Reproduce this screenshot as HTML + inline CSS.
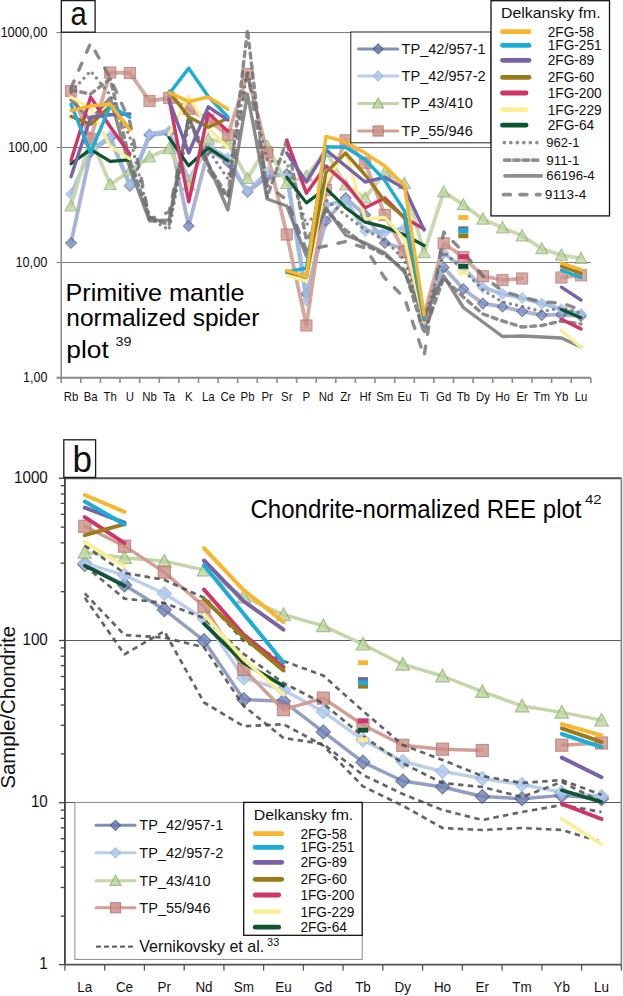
<!DOCTYPE html><html><head><meta charset="utf-8"><style>html,body{margin:0;padding:0;background:#fff;}svg{display:block;}text{font-family:"Liberation Sans", sans-serif;}</style></head><body>
<svg width="623" height="996" viewBox="0 0 623 996">
<rect width="623" height="996" fill="#fff"/>
<line x1="56.5" y1="32.5" x2="590.8" y2="32.5" stroke="#7C7C7C" stroke-width="1"/>
<line x1="56.5" y1="147.5" x2="590.8" y2="147.5" stroke="#7C7C7C" stroke-width="1"/>
<line x1="56.5" y1="262.5" x2="590.8" y2="262.5" stroke="#7C7C7C" stroke-width="1"/>
<line x1="61.2" y1="32.5" x2="61.2" y2="377.7" stroke="#8C8C8C" stroke-width="1.5"/>
<line x1="56.5" y1="377.7" x2="590.8" y2="377.7" stroke="#888" stroke-width="2"/>
<line x1="61.2" y1="377.7" x2="61.2" y2="383.0" stroke="#8C8C8C" stroke-width="1.6"/>
<line x1="80.8" y1="377.7" x2="80.8" y2="383.0" stroke="#8C8C8C" stroke-width="1.6"/>
<line x1="100.4" y1="377.7" x2="100.4" y2="383.0" stroke="#8C8C8C" stroke-width="1.6"/>
<line x1="120.0" y1="377.7" x2="120.0" y2="383.0" stroke="#8C8C8C" stroke-width="1.6"/>
<line x1="139.7" y1="377.7" x2="139.7" y2="383.0" stroke="#8C8C8C" stroke-width="1.6"/>
<line x1="159.3" y1="377.7" x2="159.3" y2="383.0" stroke="#8C8C8C" stroke-width="1.6"/>
<line x1="178.9" y1="377.7" x2="178.9" y2="383.0" stroke="#8C8C8C" stroke-width="1.6"/>
<line x1="198.5" y1="377.7" x2="198.5" y2="383.0" stroke="#8C8C8C" stroke-width="1.6"/>
<line x1="218.1" y1="377.7" x2="218.1" y2="383.0" stroke="#8C8C8C" stroke-width="1.6"/>
<line x1="237.7" y1="377.7" x2="237.7" y2="383.0" stroke="#8C8C8C" stroke-width="1.6"/>
<line x1="257.3" y1="377.7" x2="257.3" y2="383.0" stroke="#8C8C8C" stroke-width="1.6"/>
<line x1="277.0" y1="377.7" x2="277.0" y2="383.0" stroke="#8C8C8C" stroke-width="1.6"/>
<line x1="296.6" y1="377.7" x2="296.6" y2="383.0" stroke="#8C8C8C" stroke-width="1.6"/>
<line x1="316.2" y1="377.7" x2="316.2" y2="383.0" stroke="#8C8C8C" stroke-width="1.6"/>
<line x1="335.8" y1="377.7" x2="335.8" y2="383.0" stroke="#8C8C8C" stroke-width="1.6"/>
<line x1="355.4" y1="377.7" x2="355.4" y2="383.0" stroke="#8C8C8C" stroke-width="1.6"/>
<line x1="375.0" y1="377.7" x2="375.0" y2="383.0" stroke="#8C8C8C" stroke-width="1.6"/>
<line x1="394.7" y1="377.7" x2="394.7" y2="383.0" stroke="#8C8C8C" stroke-width="1.6"/>
<line x1="414.3" y1="377.7" x2="414.3" y2="383.0" stroke="#8C8C8C" stroke-width="1.6"/>
<line x1="433.9" y1="377.7" x2="433.9" y2="383.0" stroke="#8C8C8C" stroke-width="1.6"/>
<line x1="453.5" y1="377.7" x2="453.5" y2="383.0" stroke="#8C8C8C" stroke-width="1.6"/>
<line x1="473.1" y1="377.7" x2="473.1" y2="383.0" stroke="#8C8C8C" stroke-width="1.6"/>
<line x1="492.7" y1="377.7" x2="492.7" y2="383.0" stroke="#8C8C8C" stroke-width="1.6"/>
<line x1="512.3" y1="377.7" x2="512.3" y2="383.0" stroke="#8C8C8C" stroke-width="1.6"/>
<line x1="532.0" y1="377.7" x2="532.0" y2="383.0" stroke="#8C8C8C" stroke-width="1.6"/>
<line x1="551.6" y1="377.7" x2="551.6" y2="383.0" stroke="#8C8C8C" stroke-width="1.6"/>
<line x1="571.2" y1="377.7" x2="571.2" y2="383.0" stroke="#8C8C8C" stroke-width="1.6"/>
<line x1="590.8" y1="377.7" x2="590.8" y2="383.0" stroke="#8C8C8C" stroke-width="1.6"/>
<text x="47.4" y="36.9" font-size="14.2" text-anchor="end" fill="#111" textLength="47" lengthAdjust="spacingAndGlyphs" >1000,00</text>
<text x="47.4" y="151.9" font-size="14.2" text-anchor="end" fill="#111" textLength="39.5" lengthAdjust="spacingAndGlyphs" >100,00</text>
<text x="47.4" y="266.9" font-size="14.2" text-anchor="end" fill="#111" textLength="32" lengthAdjust="spacingAndGlyphs" >10,00</text>
<text x="47.4" y="382.1" font-size="14.2" text-anchor="end" fill="#111" textLength="24.5" lengthAdjust="spacingAndGlyphs" >1,00</text>
<text x="71.0" y="400.8" font-size="13.3" text-anchor="middle" fill="#111" textLength="14.56" lengthAdjust="spacingAndGlyphs" >Rb</text>
<text x="90.6" y="400.8" font-size="13.3" text-anchor="middle" fill="#111" textLength="13.93" lengthAdjust="spacingAndGlyphs" >Ba</text>
<text x="110.2" y="400.8" font-size="13.3" text-anchor="middle" fill="#111" textLength="13.3" lengthAdjust="spacingAndGlyphs" >Th</text>
<text x="129.9" y="400.8" font-size="13.3" text-anchor="middle" fill="#111" textLength="8.23" lengthAdjust="spacingAndGlyphs" >U</text>
<text x="149.5" y="400.8" font-size="13.3" text-anchor="middle" fill="#111" textLength="14.56" lengthAdjust="spacingAndGlyphs" >Nb</text>
<text x="169.1" y="400.8" font-size="13.3" text-anchor="middle" fill="#111" textLength="12.03" lengthAdjust="spacingAndGlyphs" >Ta</text>
<text x="188.7" y="400.8" font-size="13.3" text-anchor="middle" fill="#111" textLength="7.6" lengthAdjust="spacingAndGlyphs" >K</text>
<text x="208.3" y="400.8" font-size="13.3" text-anchor="middle" fill="#111" textLength="12.66" lengthAdjust="spacingAndGlyphs" >La</text>
<text x="227.9" y="400.8" font-size="13.3" text-anchor="middle" fill="#111" textLength="14.56" lengthAdjust="spacingAndGlyphs" >Ce</text>
<text x="247.5" y="400.8" font-size="13.3" text-anchor="middle" fill="#111" textLength="13.93" lengthAdjust="spacingAndGlyphs" >Pb</text>
<text x="267.2" y="400.8" font-size="13.3" text-anchor="middle" fill="#111" textLength="11.39" lengthAdjust="spacingAndGlyphs" >Pr</text>
<text x="286.8" y="400.8" font-size="13.3" text-anchor="middle" fill="#111" textLength="11.39" lengthAdjust="spacingAndGlyphs" >Sr</text>
<text x="306.4" y="400.8" font-size="13.3" text-anchor="middle" fill="#111" textLength="7.6" lengthAdjust="spacingAndGlyphs" >P</text>
<text x="326.0" y="400.8" font-size="13.3" text-anchor="middle" fill="#111" textLength="14.56" lengthAdjust="spacingAndGlyphs" >Nd</text>
<text x="345.6" y="400.8" font-size="13.3" text-anchor="middle" fill="#111" textLength="10.75" lengthAdjust="spacingAndGlyphs" >Zr</text>
<text x="365.2" y="400.8" font-size="13.3" text-anchor="middle" fill="#111" textLength="11.4" lengthAdjust="spacingAndGlyphs" >Hf</text>
<text x="384.8" y="400.8" font-size="13.3" text-anchor="middle" fill="#111" textLength="17.08" lengthAdjust="spacingAndGlyphs" >Sm</text>
<text x="404.5" y="400.8" font-size="13.3" text-anchor="middle" fill="#111" textLength="13.93" lengthAdjust="spacingAndGlyphs" >Eu</text>
<text x="424.1" y="400.8" font-size="13.3" text-anchor="middle" fill="#111" textLength="9.06" lengthAdjust="spacingAndGlyphs" >Ti</text>
<text x="443.7" y="400.8" font-size="13.3" text-anchor="middle" fill="#111" textLength="15.2" lengthAdjust="spacingAndGlyphs" >Gd</text>
<text x="463.3" y="400.8" font-size="13.3" text-anchor="middle" fill="#111" textLength="13.3" lengthAdjust="spacingAndGlyphs" >Tb</text>
<text x="482.9" y="400.8" font-size="13.3" text-anchor="middle" fill="#111" textLength="13.92" lengthAdjust="spacingAndGlyphs" >Dy</text>
<text x="502.5" y="400.8" font-size="13.3" text-anchor="middle" fill="#111" textLength="14.56" lengthAdjust="spacingAndGlyphs" >Ho</text>
<text x="522.1" y="400.8" font-size="13.3" text-anchor="middle" fill="#111" textLength="11.39" lengthAdjust="spacingAndGlyphs" >Er</text>
<text x="541.8" y="400.8" font-size="13.3" text-anchor="middle" fill="#111" textLength="16.45" lengthAdjust="spacingAndGlyphs" >Tm</text>
<text x="561.4" y="400.8" font-size="13.3" text-anchor="middle" fill="#111" textLength="13.93" lengthAdjust="spacingAndGlyphs" >Yb</text>
<text x="581.0" y="400.8" font-size="13.3" text-anchor="middle" fill="#111" textLength="12.66" lengthAdjust="spacingAndGlyphs" >Lu</text>
<polyline points="71.0,243.0 90.6,152.0 110.2,138.0 129.9,186.0 149.5,135.0 169.1,133.0 188.7,226.0 208.3,150.0 227.9,162.0 247.5,192.0 267.2,177.0 286.8,174.0 306.4,294.0 326.0,221.0 345.6,198.0 365.2,215.0 384.8,243.0 404.5,249.0 424.1,322.0 443.7,267.4 463.3,289.0 482.9,303.5 502.5,306.7 522.1,311.3 541.8,315.1 561.4,314.5 581.0,316.1" fill="none" stroke="#A2ABCF" stroke-width="3.8" stroke-linejoin="round" stroke-linecap="round" opacity="0.9"/>
<polygon points="71.0,237.8 76.3,243.0 71.0,248.2 65.8,243.0" fill="#7D8FC2" stroke="#4F5F90" stroke-width="1.2" opacity="0.75"/>
<polygon points="90.6,146.8 95.9,152.0 90.6,157.2 85.4,152.0" fill="#7D8FC2" stroke="#4F5F90" stroke-width="1.2" opacity="0.75"/>
<polygon points="110.2,132.8 115.5,138.0 110.2,143.2 105.0,138.0" fill="#7D8FC2" stroke="#4F5F90" stroke-width="1.2" opacity="0.75"/>
<polygon points="129.9,180.8 135.1,186.0 129.9,191.2 124.6,186.0" fill="#7D8FC2" stroke="#4F5F90" stroke-width="1.2" opacity="0.75"/>
<polygon points="149.5,129.8 154.7,135.0 149.5,140.2 144.2,135.0" fill="#7D8FC2" stroke="#4F5F90" stroke-width="1.2" opacity="0.75"/>
<polygon points="169.1,127.8 174.3,133.0 169.1,138.2 163.8,133.0" fill="#7D8FC2" stroke="#4F5F90" stroke-width="1.2" opacity="0.75"/>
<polygon points="188.7,220.8 193.9,226.0 188.7,231.2 183.4,226.0" fill="#7D8FC2" stroke="#4F5F90" stroke-width="1.2" opacity="0.75"/>
<polygon points="208.3,144.8 213.6,150.0 208.3,155.2 203.1,150.0" fill="#7D8FC2" stroke="#4F5F90" stroke-width="1.2" opacity="0.75"/>
<polygon points="227.9,156.8 233.2,162.0 227.9,167.2 222.7,162.0" fill="#7D8FC2" stroke="#4F5F90" stroke-width="1.2" opacity="0.75"/>
<polygon points="247.5,186.8 252.8,192.0 247.5,197.2 242.3,192.0" fill="#7D8FC2" stroke="#4F5F90" stroke-width="1.2" opacity="0.75"/>
<polygon points="267.2,171.8 272.4,177.0 267.2,182.2 261.9,177.0" fill="#7D8FC2" stroke="#4F5F90" stroke-width="1.2" opacity="0.75"/>
<polygon points="286.8,168.8 292.0,174.0 286.8,179.2 281.5,174.0" fill="#7D8FC2" stroke="#4F5F90" stroke-width="1.2" opacity="0.75"/>
<polygon points="306.4,288.8 311.6,294.0 306.4,299.2 301.1,294.0" fill="#7D8FC2" stroke="#4F5F90" stroke-width="1.2" opacity="0.75"/>
<polygon points="326.0,215.8 331.2,221.0 326.0,226.2 320.7,221.0" fill="#7D8FC2" stroke="#4F5F90" stroke-width="1.2" opacity="0.75"/>
<polygon points="345.6,192.8 350.9,198.0 345.6,203.2 340.4,198.0" fill="#7D8FC2" stroke="#4F5F90" stroke-width="1.2" opacity="0.75"/>
<polygon points="365.2,209.8 370.5,215.0 365.2,220.2 360.0,215.0" fill="#7D8FC2" stroke="#4F5F90" stroke-width="1.2" opacity="0.75"/>
<polygon points="384.8,237.8 390.1,243.0 384.8,248.2 379.6,243.0" fill="#7D8FC2" stroke="#4F5F90" stroke-width="1.2" opacity="0.75"/>
<polygon points="404.5,243.8 409.7,249.0 404.5,254.2 399.2,249.0" fill="#7D8FC2" stroke="#4F5F90" stroke-width="1.2" opacity="0.75"/>
<polygon points="424.1,316.8 429.3,322.0 424.1,327.2 418.8,322.0" fill="#7D8FC2" stroke="#4F5F90" stroke-width="1.2" opacity="0.75"/>
<polygon points="443.7,262.1 448.9,267.4 443.7,272.6 438.4,267.4" fill="#7D8FC2" stroke="#4F5F90" stroke-width="1.2" opacity="0.75"/>
<polygon points="463.3,283.8 468.6,289.0 463.3,294.2 458.1,289.0" fill="#7D8FC2" stroke="#4F5F90" stroke-width="1.2" opacity="0.75"/>
<polygon points="482.9,298.2 488.2,303.5 482.9,308.8 477.7,303.5" fill="#7D8FC2" stroke="#4F5F90" stroke-width="1.2" opacity="0.75"/>
<polygon points="502.5,301.4 507.8,306.7 502.5,311.9 497.3,306.7" fill="#7D8FC2" stroke="#4F5F90" stroke-width="1.2" opacity="0.75"/>
<polygon points="522.1,306.1 527.4,311.3 522.1,316.6 516.9,311.3" fill="#7D8FC2" stroke="#4F5F90" stroke-width="1.2" opacity="0.75"/>
<polygon points="541.8,309.9 547.0,315.1 541.8,320.4 536.5,315.1" fill="#7D8FC2" stroke="#4F5F90" stroke-width="1.2" opacity="0.75"/>
<polygon points="561.4,309.2 566.6,314.5 561.4,319.8 556.1,314.5" fill="#7D8FC2" stroke="#4F5F90" stroke-width="1.2" opacity="0.75"/>
<polygon points="581.0,310.9 586.2,316.1 581.0,321.4 575.7,316.1" fill="#7D8FC2" stroke="#4F5F90" stroke-width="1.2" opacity="0.75"/>
<polyline points="71.0,194.0 90.6,150.0 110.2,136.5 129.9,185.0 149.5,134.0 169.1,131.0 188.7,180.0 208.3,146.0 227.9,158.0 247.5,191.5 267.2,172.0 286.8,176.0 306.4,301.0 326.0,205.0 345.6,200.0 365.2,231.0 384.8,232.0 404.5,228.0 424.1,318.0 443.7,253.0 463.3,268.2 482.9,287.4 502.5,294.0 522.1,298.0 541.8,303.6 561.4,309.0 581.0,314.0" fill="none" stroke="#9DBAE2" stroke-width="3.8" stroke-linejoin="round" stroke-linecap="round" opacity="0.9"/>
<polygon points="71.0,188.8 76.3,194.0 71.0,199.2 65.8,194.0" fill="#A8C4EA" stroke="#9DB7DE" stroke-width="1.2" opacity="0.75"/>
<polygon points="90.6,144.8 95.9,150.0 90.6,155.2 85.4,150.0" fill="#A8C4EA" stroke="#9DB7DE" stroke-width="1.2" opacity="0.75"/>
<polygon points="110.2,131.2 115.5,136.5 110.2,141.8 105.0,136.5" fill="#A8C4EA" stroke="#9DB7DE" stroke-width="1.2" opacity="0.75"/>
<polygon points="129.9,179.8 135.1,185.0 129.9,190.2 124.6,185.0" fill="#A8C4EA" stroke="#9DB7DE" stroke-width="1.2" opacity="0.75"/>
<polygon points="149.5,128.8 154.7,134.0 149.5,139.2 144.2,134.0" fill="#A8C4EA" stroke="#9DB7DE" stroke-width="1.2" opacity="0.75"/>
<polygon points="169.1,125.8 174.3,131.0 169.1,136.2 163.8,131.0" fill="#A8C4EA" stroke="#9DB7DE" stroke-width="1.2" opacity="0.75"/>
<polygon points="188.7,174.8 193.9,180.0 188.7,185.2 183.4,180.0" fill="#A8C4EA" stroke="#9DB7DE" stroke-width="1.2" opacity="0.75"/>
<polygon points="208.3,140.8 213.6,146.0 208.3,151.2 203.1,146.0" fill="#A8C4EA" stroke="#9DB7DE" stroke-width="1.2" opacity="0.75"/>
<polygon points="227.9,152.8 233.2,158.0 227.9,163.2 222.7,158.0" fill="#A8C4EA" stroke="#9DB7DE" stroke-width="1.2" opacity="0.75"/>
<polygon points="247.5,186.2 252.8,191.5 247.5,196.8 242.3,191.5" fill="#A8C4EA" stroke="#9DB7DE" stroke-width="1.2" opacity="0.75"/>
<polygon points="267.2,166.8 272.4,172.0 267.2,177.2 261.9,172.0" fill="#A8C4EA" stroke="#9DB7DE" stroke-width="1.2" opacity="0.75"/>
<polygon points="286.8,170.8 292.0,176.0 286.8,181.2 281.5,176.0" fill="#A8C4EA" stroke="#9DB7DE" stroke-width="1.2" opacity="0.75"/>
<polygon points="306.4,295.8 311.6,301.0 306.4,306.2 301.1,301.0" fill="#A8C4EA" stroke="#9DB7DE" stroke-width="1.2" opacity="0.75"/>
<polygon points="326.0,199.8 331.2,205.0 326.0,210.2 320.7,205.0" fill="#A8C4EA" stroke="#9DB7DE" stroke-width="1.2" opacity="0.75"/>
<polygon points="345.6,194.8 350.9,200.0 345.6,205.2 340.4,200.0" fill="#A8C4EA" stroke="#9DB7DE" stroke-width="1.2" opacity="0.75"/>
<polygon points="365.2,225.8 370.5,231.0 365.2,236.2 360.0,231.0" fill="#A8C4EA" stroke="#9DB7DE" stroke-width="1.2" opacity="0.75"/>
<polygon points="384.8,226.8 390.1,232.0 384.8,237.2 379.6,232.0" fill="#A8C4EA" stroke="#9DB7DE" stroke-width="1.2" opacity="0.75"/>
<polygon points="404.5,222.8 409.7,228.0 404.5,233.2 399.2,228.0" fill="#A8C4EA" stroke="#9DB7DE" stroke-width="1.2" opacity="0.75"/>
<polygon points="424.1,312.8 429.3,318.0 424.1,323.2 418.8,318.0" fill="#A8C4EA" stroke="#9DB7DE" stroke-width="1.2" opacity="0.75"/>
<polygon points="443.7,247.8 448.9,253.0 443.7,258.2 438.4,253.0" fill="#A8C4EA" stroke="#9DB7DE" stroke-width="1.2" opacity="0.75"/>
<polygon points="463.3,262.9 468.6,268.2 463.3,273.4 458.1,268.2" fill="#A8C4EA" stroke="#9DB7DE" stroke-width="1.2" opacity="0.75"/>
<polygon points="482.9,282.1 488.2,287.4 482.9,292.6 477.7,287.4" fill="#A8C4EA" stroke="#9DB7DE" stroke-width="1.2" opacity="0.75"/>
<polygon points="502.5,288.8 507.8,294.0 502.5,299.2 497.3,294.0" fill="#A8C4EA" stroke="#9DB7DE" stroke-width="1.2" opacity="0.75"/>
<polygon points="522.1,292.8 527.4,298.0 522.1,303.2 516.9,298.0" fill="#A8C4EA" stroke="#9DB7DE" stroke-width="1.2" opacity="0.75"/>
<polygon points="541.8,298.4 547.0,303.6 541.8,308.9 536.5,303.6" fill="#A8C4EA" stroke="#9DB7DE" stroke-width="1.2" opacity="0.75"/>
<polygon points="561.4,303.8 566.6,309.0 561.4,314.2 556.1,309.0" fill="#A8C4EA" stroke="#9DB7DE" stroke-width="1.2" opacity="0.75"/>
<polygon points="581.0,308.8 586.2,314.0 581.0,319.2 575.7,314.0" fill="#A8C4EA" stroke="#9DB7DE" stroke-width="1.2" opacity="0.75"/>
<polyline points="71.0,206.0 90.6,138.0 110.2,184.5 129.9,171.0 149.5,157.0 169.1,148.5 188.7,185.0 208.3,139.0 227.9,143.0 247.5,178.5 267.2,146.0 286.8,183.5 306.4,176.0 326.0,151.5 345.6,185.0 365.2,198.0 384.8,172.5 404.5,183.5 424.1,252.7 443.7,191.8 463.3,204.7 482.9,219.1 502.5,227.8 522.1,235.8 541.8,248.7 561.4,255.1 581.0,258.3" fill="none" stroke="#C4D5A8" stroke-width="3.8" stroke-linejoin="round" stroke-linecap="round" opacity="0.9"/>
<polygon points="71.0,200.0 77.0,211.0 65.0,211.0" fill="#BCD69E" stroke="#93AF72" stroke-width="1.2" opacity="0.75"/>
<polygon points="90.6,132.0 96.6,143.0 84.6,143.0" fill="#BCD69E" stroke="#93AF72" stroke-width="1.2" opacity="0.75"/>
<polygon points="110.2,178.5 116.2,189.5 104.2,189.5" fill="#BCD69E" stroke="#93AF72" stroke-width="1.2" opacity="0.75"/>
<polygon points="129.9,165.0 135.9,176.0 123.9,176.0" fill="#BCD69E" stroke="#93AF72" stroke-width="1.2" opacity="0.75"/>
<polygon points="149.5,151.0 155.5,162.0 143.5,162.0" fill="#BCD69E" stroke="#93AF72" stroke-width="1.2" opacity="0.75"/>
<polygon points="169.1,142.5 175.1,153.5 163.1,153.5" fill="#BCD69E" stroke="#93AF72" stroke-width="1.2" opacity="0.75"/>
<polygon points="188.7,179.0 194.7,190.0 182.7,190.0" fill="#BCD69E" stroke="#93AF72" stroke-width="1.2" opacity="0.75"/>
<polygon points="208.3,133.0 214.3,144.0 202.3,144.0" fill="#BCD69E" stroke="#93AF72" stroke-width="1.2" opacity="0.75"/>
<polygon points="227.9,137.0 233.9,148.0 221.9,148.0" fill="#BCD69E" stroke="#93AF72" stroke-width="1.2" opacity="0.75"/>
<polygon points="247.5,172.5 253.5,183.5 241.5,183.5" fill="#BCD69E" stroke="#93AF72" stroke-width="1.2" opacity="0.75"/>
<polygon points="267.2,140.0 273.2,151.0 261.2,151.0" fill="#BCD69E" stroke="#93AF72" stroke-width="1.2" opacity="0.75"/>
<polygon points="286.8,177.5 292.8,188.5 280.8,188.5" fill="#BCD69E" stroke="#93AF72" stroke-width="1.2" opacity="0.75"/>
<polygon points="306.4,170.0 312.4,181.0 300.4,181.0" fill="#BCD69E" stroke="#93AF72" stroke-width="1.2" opacity="0.75"/>
<polygon points="326.0,145.5 332.0,156.5 320.0,156.5" fill="#BCD69E" stroke="#93AF72" stroke-width="1.2" opacity="0.75"/>
<polygon points="345.6,179.0 351.6,190.0 339.6,190.0" fill="#BCD69E" stroke="#93AF72" stroke-width="1.2" opacity="0.75"/>
<polygon points="365.2,192.0 371.2,203.0 359.2,203.0" fill="#BCD69E" stroke="#93AF72" stroke-width="1.2" opacity="0.75"/>
<polygon points="384.8,166.5 390.8,177.5 378.8,177.5" fill="#BCD69E" stroke="#93AF72" stroke-width="1.2" opacity="0.75"/>
<polygon points="404.5,177.5 410.5,188.5 398.5,188.5" fill="#BCD69E" stroke="#93AF72" stroke-width="1.2" opacity="0.75"/>
<polygon points="424.1,246.7 430.1,257.7 418.1,257.7" fill="#BCD69E" stroke="#93AF72" stroke-width="1.2" opacity="0.75"/>
<polygon points="443.7,185.8 449.7,196.8 437.7,196.8" fill="#BCD69E" stroke="#93AF72" stroke-width="1.2" opacity="0.75"/>
<polygon points="463.3,198.7 469.3,209.7 457.3,209.7" fill="#BCD69E" stroke="#93AF72" stroke-width="1.2" opacity="0.75"/>
<polygon points="482.9,213.1 488.9,224.1 476.9,224.1" fill="#BCD69E" stroke="#93AF72" stroke-width="1.2" opacity="0.75"/>
<polygon points="502.5,221.8 508.5,232.8 496.5,232.8" fill="#BCD69E" stroke="#93AF72" stroke-width="1.2" opacity="0.75"/>
<polygon points="522.1,229.8 528.1,240.8 516.1,240.8" fill="#BCD69E" stroke="#93AF72" stroke-width="1.2" opacity="0.75"/>
<polygon points="541.8,242.7 547.8,253.7 535.8,253.7" fill="#BCD69E" stroke="#93AF72" stroke-width="1.2" opacity="0.75"/>
<polygon points="561.4,249.1 567.4,260.1 555.4,260.1" fill="#BCD69E" stroke="#93AF72" stroke-width="1.2" opacity="0.75"/>
<polygon points="581.0,252.3 587.0,263.3 575.0,263.3" fill="#BCD69E" stroke="#93AF72" stroke-width="1.2" opacity="0.75"/>
<polyline points="71.0,91.0 90.6,139.0 110.2,72.5 129.9,73.0 149.5,101.0 169.1,98.0 188.7,109.0 208.3,120.0 227.9,135.0 247.5,74.0 267.2,152.6 286.8,234.5 306.4,325.5 326.0,190.0 345.6,140.3 365.2,162.7 384.8,215.0 404.5,252.0 424.1,315.0 443.7,243.3 463.3,257.0 482.9,276.2 502.5,280.0 522.1,278.5" fill="none" stroke="#D29E96" stroke-width="3.8" stroke-linejoin="round" stroke-linecap="round" opacity="0.9"/>
<polyline points="561.4,277.5 581.0,275.3" fill="none" stroke="#D29E96" stroke-width="3.8" stroke-linejoin="round" stroke-linecap="round" opacity="0.9"/>
<rect x="65.5" y="85.5" width="11" height="11" fill="#CB9189" stroke="#B47268" stroke-width="1.2" opacity="0.75"/>
<rect x="85.1" y="133.5" width="11" height="11" fill="#CB9189" stroke="#B47268" stroke-width="1.2" opacity="0.75"/>
<rect x="104.7" y="67.0" width="11" height="11" fill="#CB9189" stroke="#B47268" stroke-width="1.2" opacity="0.75"/>
<rect x="124.4" y="67.5" width="11" height="11" fill="#CB9189" stroke="#B47268" stroke-width="1.2" opacity="0.75"/>
<rect x="144.0" y="95.5" width="11" height="11" fill="#CB9189" stroke="#B47268" stroke-width="1.2" opacity="0.75"/>
<rect x="163.6" y="92.5" width="11" height="11" fill="#CB9189" stroke="#B47268" stroke-width="1.2" opacity="0.75"/>
<rect x="183.2" y="103.5" width="11" height="11" fill="#CB9189" stroke="#B47268" stroke-width="1.2" opacity="0.75"/>
<rect x="202.8" y="114.5" width="11" height="11" fill="#CB9189" stroke="#B47268" stroke-width="1.2" opacity="0.75"/>
<rect x="222.4" y="129.5" width="11" height="11" fill="#CB9189" stroke="#B47268" stroke-width="1.2" opacity="0.75"/>
<rect x="242.0" y="68.5" width="11" height="11" fill="#CB9189" stroke="#B47268" stroke-width="1.2" opacity="0.75"/>
<rect x="261.7" y="147.1" width="11" height="11" fill="#CB9189" stroke="#B47268" stroke-width="1.2" opacity="0.75"/>
<rect x="281.3" y="229.0" width="11" height="11" fill="#CB9189" stroke="#B47268" stroke-width="1.2" opacity="0.75"/>
<rect x="300.9" y="320.0" width="11" height="11" fill="#CB9189" stroke="#B47268" stroke-width="1.2" opacity="0.75"/>
<rect x="320.5" y="184.5" width="11" height="11" fill="#CB9189" stroke="#B47268" stroke-width="1.2" opacity="0.75"/>
<rect x="340.1" y="134.8" width="11" height="11" fill="#CB9189" stroke="#B47268" stroke-width="1.2" opacity="0.75"/>
<rect x="359.7" y="157.2" width="11" height="11" fill="#CB9189" stroke="#B47268" stroke-width="1.2" opacity="0.75"/>
<rect x="379.3" y="209.5" width="11" height="11" fill="#CB9189" stroke="#B47268" stroke-width="1.2" opacity="0.75"/>
<rect x="399.0" y="246.5" width="11" height="11" fill="#CB9189" stroke="#B47268" stroke-width="1.2" opacity="0.75"/>
<rect x="418.6" y="309.5" width="11" height="11" fill="#CB9189" stroke="#B47268" stroke-width="1.2" opacity="0.75"/>
<rect x="438.2" y="237.8" width="11" height="11" fill="#CB9189" stroke="#B47268" stroke-width="1.2" opacity="0.75"/>
<rect x="457.8" y="251.5" width="11" height="11" fill="#CB9189" stroke="#B47268" stroke-width="1.2" opacity="0.75"/>
<rect x="477.4" y="270.7" width="11" height="11" fill="#CB9189" stroke="#B47268" stroke-width="1.2" opacity="0.75"/>
<rect x="497.0" y="274.5" width="11" height="11" fill="#CB9189" stroke="#B47268" stroke-width="1.2" opacity="0.75"/>
<rect x="516.6" y="273.0" width="11" height="11" fill="#CB9189" stroke="#B47268" stroke-width="1.2" opacity="0.75"/>
<rect x="555.9" y="272.0" width="11" height="11" fill="#CB9189" stroke="#B47268" stroke-width="1.2" opacity="0.75"/>
<rect x="575.5" y="269.8" width="11" height="11" fill="#CB9189" stroke="#B47268" stroke-width="1.2" opacity="0.75"/>
<polyline points="71.0,92.0 90.6,71.0 110.2,95.0 129.9,137.0 149.5,218.0 169.1,230.0 188.7,125.0 208.3,150.0 227.9,179.0 247.5,70.8 267.2,161.0 286.8,162.0 306.4,225.0 326.0,200.0 345.6,215.0 365.2,230.0 384.8,240.0 404.5,260.0 424.1,322.0 443.7,252.0 463.3,270.0 482.9,290.0 502.5,302.0 522.1,306.5 541.8,311.5 561.4,308.0 581.0,313.0" fill="none" stroke="#6E6E6E" stroke-width="3.3" stroke-linejoin="round" stroke-linecap="round" stroke-dasharray="0.01,6.3" opacity="0.8"/>
<polyline points="71.0,90.0 90.6,94.0 110.2,79.0 129.9,160.0 149.5,217.0 169.1,225.0 188.7,117.0 208.3,165.0 227.9,197.0 247.5,30.0 267.2,197.0 286.8,140.0 306.4,240.0 326.0,210.0 345.6,230.0 365.2,245.0 384.8,255.0 404.5,270.0 424.1,333.0 443.7,278.0 463.3,297.0 482.9,314.0 502.5,321.0 522.1,327.0 541.8,325.5 561.4,321.0 581.0,324.0" fill="none" stroke="#6E6E6E" stroke-width="3.4" stroke-linejoin="round" stroke-linecap="round" stroke-dasharray="5,5" opacity="0.8"/>
<polyline points="71.0,100.0 90.6,120.0 110.2,98.0 129.9,168.0 149.5,221.0 169.1,220.0 188.7,117.0 208.3,164.0 227.9,210.0 247.5,94.0 267.2,199.0 286.8,206.0 306.4,256.0 326.0,208.0 345.6,235.0 365.2,243.0 384.8,253.0 404.5,272.0 424.1,317.0 443.7,276.0 463.3,307.5 482.9,322.0 502.5,336.5 522.1,336.0 541.8,337.0 561.4,338.0 581.0,347.0" fill="none" stroke="#6E6E6E" stroke-width="3.4" stroke-linejoin="round" stroke-linecap="round" opacity="0.8"/>
<polyline points="71.0,88.0 90.6,43.0 110.2,78.0 129.9,122.0 149.5,219.0 169.1,212.0 188.7,118.0 208.3,170.0 227.9,200.0 247.5,72.0 267.2,185.0 286.8,200.0 306.4,250.0 326.0,246.0 345.6,241.5 365.2,248.0 384.8,278.0 404.5,298.0 424.1,356.0 443.7,232.0 463.3,252.0 482.9,276.0 502.5,291.0 522.1,297.0 541.8,302.0 561.4,303.0 581.0,310.0" fill="none" stroke="#6E6E6E" stroke-width="3.4" stroke-linejoin="round" stroke-linecap="round" stroke-dasharray="7.5,12" opacity="0.8"/>
<polyline points="71.0,163.8 90.6,149.4 110.2,161.4 129.9,159.8" fill="none" stroke="#0F5430" stroke-width="3.2" stroke-linejoin="round" stroke-linecap="round" opacity="1"/>
<polyline points="169.1,137.6 188.7,165.8 208.3,147.9 227.9,160.7" fill="none" stroke="#0F5430" stroke-width="3.2" stroke-linejoin="round" stroke-linecap="round" opacity="1"/>
<polyline points="286.8,177.2 306.4,202.9 326.0,188.4 345.6,207.7 365.2,222.1 384.8,226.9 404.5,235.0 424.1,245.5" fill="none" stroke="#0F5430" stroke-width="3.2" stroke-linejoin="round" stroke-linecap="round" opacity="1"/>
<line x1="458.3" y1="266.3" x2="468.3" y2="266.3" stroke="#0F5430" stroke-width="4.8" opacity="1"/>
<polyline points="561.4,309.6 581.0,317.7" fill="none" stroke="#0F5430" stroke-width="3.2" stroke-linejoin="round" stroke-linecap="round" opacity="1"/>
<polyline points="71.0,97.1 90.6,108.0 110.2,146.1 129.9,159.0" fill="none" stroke="#FBEF96" stroke-width="3.2" stroke-linejoin="round" stroke-linecap="round" opacity="1"/>
<polyline points="169.1,134.5 188.7,96.5 208.3,128.0 227.9,147.9" fill="none" stroke="#FBEF96" stroke-width="3.2" stroke-linejoin="round" stroke-linecap="round" opacity="1"/>
<polyline points="286.8,275.2 306.4,281.6 326.0,182.0 345.6,151.5 365.2,218.9 384.8,217.3 404.5,239.8 424.1,322.0" fill="none" stroke="#FBEF96" stroke-width="3.2" stroke-linejoin="round" stroke-linecap="round" opacity="1"/>
<line x1="458.3" y1="272.7" x2="468.3" y2="272.7" stroke="#FBEF96" stroke-width="4.8" opacity="1"/>
<polyline points="561.4,330.5 581.0,347.2" fill="none" stroke="#FBEF96" stroke-width="3.2" stroke-linejoin="round" stroke-linecap="round" opacity="1"/>
<polyline points="71.0,160.6 90.6,97.1 110.2,126.8 129.9,154.1" fill="none" stroke="#D13466" stroke-width="3.4" stroke-linejoin="round" stroke-linecap="round" opacity="1"/>
<polyline points="169.1,99.0 188.7,201.8 208.3,113.2 227.9,131.2" fill="none" stroke="#D13466" stroke-width="3.4" stroke-linejoin="round" stroke-linecap="round" opacity="1"/>
<polyline points="286.8,140.3 306.4,193.2 326.0,166.0 345.6,183.6 365.2,207.7 384.8,198.0 404.5,218.0 424.1,229.0" fill="none" stroke="#D13466" stroke-width="3.4" stroke-linejoin="round" stroke-linecap="round" opacity="1"/>
<line x1="458.3" y1="256.7" x2="468.3" y2="256.7" stroke="#D13466" stroke-width="4.8" opacity="1"/>
<polyline points="561.4,319.3 581.0,328.9" fill="none" stroke="#D13466" stroke-width="3.4" stroke-linejoin="round" stroke-linecap="round" opacity="1"/>
<polyline points="71.0,116.4 90.6,124.4 110.2,105.9 129.9,129.2" fill="none" stroke="#9B7A1A" stroke-width="3.4" stroke-linejoin="round" stroke-linecap="round" opacity="1"/>
<polyline points="169.1,91.4 188.7,117.0 208.3,127.3 227.9,118.3" fill="none" stroke="#9B7A1A" stroke-width="3.4" stroke-linejoin="round" stroke-linecap="round" opacity="1"/>
<polyline points="286.8,272.0 306.4,277.0 326.0,172.4 345.6,153.1 365.2,175.0 384.8,201.3 404.5,217.3 424.1,320.0" fill="none" stroke="#9B7A1A" stroke-width="3.4" stroke-linejoin="round" stroke-linecap="round" opacity="1"/>
<line x1="458.3" y1="235.8" x2="468.3" y2="235.8" stroke="#9B7A1A" stroke-width="4.8" opacity="1"/>
<polyline points="561.4,266.3 581.0,273.4" fill="none" stroke="#9B7A1A" stroke-width="3.4" stroke-linejoin="round" stroke-linecap="round" opacity="1"/>
<polyline points="71.0,176.7 90.6,117.2 110.2,114.8 129.9,114.0" fill="none" stroke="#7A62A8" stroke-width="3.4" stroke-linejoin="round" stroke-linecap="round" opacity="1"/>
<polyline points="169.1,100.3 188.7,153.0 208.3,106.8 227.9,120.0" fill="none" stroke="#7A62A8" stroke-width="3.4" stroke-linejoin="round" stroke-linecap="round" opacity="1"/>
<polyline points="286.8,153.0 306.4,182.0 326.0,150.0 345.6,166.0 365.2,182.0 384.8,177.2 404.5,188.4 424.1,230.0" fill="none" stroke="#7A62A8" stroke-width="3.4" stroke-linejoin="round" stroke-linecap="round" opacity="1"/>
<line x1="458.3" y1="228.7" x2="468.3" y2="228.7" stroke="#7A62A8" stroke-width="4.8" opacity="1"/>
<polyline points="561.4,287.2 581.0,300.0" fill="none" stroke="#7A62A8" stroke-width="3.4" stroke-linejoin="round" stroke-linecap="round" opacity="1"/>
<polyline points="71.0,104.3 90.6,152.5 110.2,105.9 129.9,117.2" fill="none" stroke="#1AAED6" stroke-width="3.4" stroke-linejoin="round" stroke-linecap="round" opacity="1"/>
<polyline points="169.1,93.9 188.7,68.2 208.3,96.5 227.9,117.0" fill="none" stroke="#1AAED6" stroke-width="3.4" stroke-linejoin="round" stroke-linecap="round" opacity="1"/>
<polyline points="286.8,272.0 306.4,268.0 326.0,146.7 345.6,147.3 365.2,159.5 384.8,180.4 404.5,211.0 424.1,318.0" fill="none" stroke="#1AAED6" stroke-width="3.4" stroke-linejoin="round" stroke-linecap="round" opacity="1"/>
<line x1="458.3" y1="231.0" x2="468.3" y2="231.0" stroke="#1AAED6" stroke-width="4.8" opacity="1"/>
<polyline points="561.4,270.2 581.0,277.5" fill="none" stroke="#1AAED6" stroke-width="3.4" stroke-linejoin="round" stroke-linecap="round" opacity="1"/>
<polyline points="71.0,110.7 90.6,105.9 110.2,104.3 129.9,130.0" fill="none" stroke="#F9B52B" stroke-width="3.4" stroke-linejoin="round" stroke-linecap="round" opacity="1"/>
<polyline points="169.1,92.6 188.7,101.6 208.3,97.0 227.9,109.3" fill="none" stroke="#F9B52B" stroke-width="3.4" stroke-linejoin="round" stroke-linecap="round" opacity="1"/>
<polyline points="286.8,270.4 306.4,276.8 326.0,136.4 345.6,141.9 365.2,153.1 384.8,166.0 404.5,186.0 424.1,314.5" fill="none" stroke="#F9B52B" stroke-width="3.4" stroke-linejoin="round" stroke-linecap="round" opacity="1"/>
<line x1="458.3" y1="217.5" x2="468.3" y2="217.5" stroke="#F9B52B" stroke-width="4.8" opacity="1"/>
<polyline points="561.4,263.1 581.0,269.5" fill="none" stroke="#F9B52B" stroke-width="3.4" stroke-linejoin="round" stroke-linecap="round" opacity="1"/>
<rect x="350.8" y="32" width="140.2" height="110.8" fill="#fff" stroke="#222" stroke-width="1"/>
<line x1="358.5" y1="49" x2="397.8" y2="49" stroke="#8390B6" stroke-width="3" stroke-linecap="round"/>
<polygon points="378.1,44.0 383.1,49.0 378.1,54.0 373.1,49.0" fill="#6A7BAA" stroke="#4F5F90" stroke-width="1.2" opacity="0.85"/>
<text x="401.6" y="53.9" font-size="14.6" text-anchor="start" fill="#111" textLength="84" lengthAdjust="spacingAndGlyphs" >TP_42/957-1</text>
<line x1="358.5" y1="76" x2="397.8" y2="76" stroke="#BBCFEA" stroke-width="3" stroke-linecap="round"/>
<polygon points="378.1,71.0 383.1,76.0 378.1,81.0 373.1,76.0" fill="#AFC8EC" stroke="#9DB7DE" stroke-width="1.2" opacity="0.85"/>
<text x="401.6" y="80.9" font-size="14.6" text-anchor="start" fill="#111" textLength="84" lengthAdjust="spacingAndGlyphs" >TP_42/957-2</text>
<line x1="358.5" y1="103.5" x2="397.8" y2="103.5" stroke="#C4D5A8" stroke-width="3" stroke-linecap="round"/>
<polygon points="378.1,98.0 383.6,108.0 372.6,108.0" fill="#BCD69E" stroke="#93AF72" stroke-width="1.2" opacity="0.85"/>
<text x="401.6" y="108.4" font-size="14.6" text-anchor="start" fill="#111" textLength="71.2" lengthAdjust="spacingAndGlyphs" >TP_43/410</text>
<line x1="358.5" y1="131" x2="397.8" y2="131" stroke="#D29E96" stroke-width="3" stroke-linecap="round"/>
<rect x="373.1" y="126.0" width="10" height="10" fill="#CB9189" stroke="#B47268" stroke-width="1.2" opacity="0.85"/>
<text x="401.6" y="135.9" font-size="14.6" text-anchor="start" fill="#111" textLength="71.2" lengthAdjust="spacingAndGlyphs" >TP_55/946</text>
<rect x="491" y="0.7" width="118.5" height="215.2" fill="#fff" stroke="#111" stroke-width="1.3"/>
<text x="501.0" y="17.9" font-size="15.3" text-anchor="start" fill="#111" textLength="99.6" lengthAdjust="spacingAndGlyphs" >Delkansky fm.</text>
<line x1="502.5" y1="31.7" x2="529.0" y2="31.7" stroke="#F9B52B" stroke-width="4.8" stroke-linecap="round"/>
<text x="547.7" y="36.5" font-size="14.3" text-anchor="start" fill="#111" textLength="46.5" lengthAdjust="spacingAndGlyphs" >2FG-58</text>
<line x1="502.5" y1="45.4" x2="529.0" y2="45.4" stroke="#1AAED6" stroke-width="4.8" stroke-linecap="round"/>
<text x="547.7" y="50.2" font-size="14.3" text-anchor="start" fill="#111" textLength="54" lengthAdjust="spacingAndGlyphs" >1FG-251</text>
<line x1="502.5" y1="60.3" x2="529.0" y2="60.3" stroke="#7A62A8" stroke-width="4.8" stroke-linecap="round"/>
<text x="547.7" y="65.1" font-size="14.3" text-anchor="start" fill="#111" textLength="46.5" lengthAdjust="spacingAndGlyphs" >2FG-89</text>
<line x1="502.5" y1="77.3" x2="529.0" y2="77.3" stroke="#9B7A1A" stroke-width="4.8" stroke-linecap="round"/>
<text x="547.7" y="82.1" font-size="14.3" text-anchor="start" fill="#111" textLength="46.5" lengthAdjust="spacingAndGlyphs" >2FG-60</text>
<line x1="502.5" y1="93" x2="526.0" y2="93" stroke="#D13466" stroke-width="4.8" stroke-linecap="round"/>
<text x="547.7" y="97.8" font-size="14.3" text-anchor="start" fill="#111" textLength="54" lengthAdjust="spacingAndGlyphs" >1FG-200</text>
<line x1="502.5" y1="109.7" x2="526.0" y2="109.7" stroke="#FBEF96" stroke-width="4.8" stroke-linecap="round"/>
<text x="547.7" y="114.5" font-size="14.3" text-anchor="start" fill="#111" textLength="54" lengthAdjust="spacingAndGlyphs" >1FG-229</text>
<line x1="502.5" y1="125.2" x2="526.0" y2="125.2" stroke="#0F5430" stroke-width="4.8" stroke-linecap="round"/>
<text x="547.7" y="130.0" font-size="14.3" text-anchor="start" fill="#111" textLength="46.5" lengthAdjust="spacingAndGlyphs" >2FG-64</text>
<line x1="504.3" y1="142.6" x2="538" y2="142.6" stroke="#8E8E8E" stroke-width="3.7" stroke-linecap="round" stroke-dasharray="0.01,6.5"/>
<text x="546.3" y="147.0" font-size="13.7" text-anchor="start" fill="#111" textLength="33.2" lengthAdjust="spacingAndGlyphs" >962-1</text>
<line x1="504.5" y1="160.1" x2="540" y2="160.1" stroke="#8E8E8E" stroke-width="3.7" stroke-linecap="round" stroke-dasharray="5.4,3.9"/>
<text x="546.3" y="164.7" font-size="13.7" text-anchor="start" fill="#111" textLength="33.2" lengthAdjust="spacingAndGlyphs" >911-1</text>
<line x1="505" y1="175.8" x2="541.3" y2="175.8" stroke="#8E8E8E" stroke-width="3.7" stroke-linecap="round"/>
<text x="546.3" y="180.2" font-size="13.7" text-anchor="start" fill="#111" textLength="48.4" lengthAdjust="spacingAndGlyphs" >66196-4</text>
<line x1="503.5" y1="194.6" x2="540" y2="194.6" stroke="#8E8E8E" stroke-width="3.7" stroke-linecap="round" stroke-dasharray="6.9,9.6"/>
<text x="544.8" y="198.7" font-size="13.7" text-anchor="start" fill="#111" textLength="41.5" lengthAdjust="spacingAndGlyphs" >9113-4</text>
<rect x="61.3" y="0.6" width="33.8" height="31.6" fill="#fff" stroke="#1a1a1a" stroke-width="1.3"/>
<text x="78.6" y="25.0" font-size="33" text-anchor="middle" fill="#111" textLength="16.3" lengthAdjust="spacingAndGlyphs" >a</text>
<text x="65.5" y="300.7" font-size="24.8" text-anchor="start" fill="#000" textLength="179" lengthAdjust="spacingAndGlyphs" >Primitive mantle</text>
<text x="66.3" y="326.0" font-size="24.8" text-anchor="start" fill="#000" textLength="193" lengthAdjust="spacingAndGlyphs" >normalized spider</text>
<text x="66.3" y="357.7" font-size="24.8" text-anchor="start" fill="#000" textLength="42.5" lengthAdjust="spacingAndGlyphs" >plot</text>
<text x="115.4" y="346.4" font-size="12.5" text-anchor="start" fill="#111" textLength="16" lengthAdjust="spacingAndGlyphs" >39</text>
<rect x="64.9" y="478.3" width="556.5" height="486.3" fill="none" stroke="#7F7F7F" stroke-width="1"/>
<line x1="64.9" y1="640.5" x2="621.4" y2="640.5" stroke="#5A5A5A" stroke-width="1.2"/>
<line x1="64.9" y1="802.5" x2="621.4" y2="802.5" stroke="#5A5A5A" stroke-width="1.2"/>
<line x1="64.9" y1="478.3" x2="621.4" y2="478.3" stroke="#555" stroke-width="2"/>
<line x1="621.4" y1="478.3" x2="621.4" y2="964.6" stroke="#888" stroke-width="1.6"/>
<line x1="64.9" y1="478.3" x2="64.9" y2="964.6" stroke="#444" stroke-width="1.8"/>
<line x1="64.9" y1="964.6" x2="621.4" y2="964.6" stroke="#555" stroke-width="1.8"/>
<line x1="58.900000000000006" y1="478.3" x2="64.9" y2="478.3" stroke="#444" stroke-width="1.3"/>
<line x1="60.7" y1="591.7" x2="64.9" y2="591.7" stroke="#444" stroke-width="1.3"/>
<line x1="60.7" y1="563.1" x2="64.9" y2="563.1" stroke="#444" stroke-width="1.3"/>
<line x1="60.7" y1="542.8" x2="64.9" y2="542.8" stroke="#444" stroke-width="1.3"/>
<line x1="60.7" y1="527.1" x2="64.9" y2="527.1" stroke="#444" stroke-width="1.3"/>
<line x1="60.7" y1="514.3" x2="64.9" y2="514.3" stroke="#444" stroke-width="1.3"/>
<line x1="60.7" y1="503.4" x2="64.9" y2="503.4" stroke="#444" stroke-width="1.3"/>
<line x1="60.7" y1="494.0" x2="64.9" y2="494.0" stroke="#444" stroke-width="1.3"/>
<line x1="60.7" y1="485.7" x2="64.9" y2="485.7" stroke="#444" stroke-width="1.3"/>
<line x1="58.900000000000006" y1="640.5" x2="64.9" y2="640.5" stroke="#444" stroke-width="1.3"/>
<line x1="60.7" y1="753.9" x2="64.9" y2="753.9" stroke="#444" stroke-width="1.3"/>
<line x1="60.7" y1="725.3" x2="64.9" y2="725.3" stroke="#444" stroke-width="1.3"/>
<line x1="60.7" y1="705.0" x2="64.9" y2="705.0" stroke="#444" stroke-width="1.3"/>
<line x1="60.7" y1="689.3" x2="64.9" y2="689.3" stroke="#444" stroke-width="1.3"/>
<line x1="60.7" y1="676.5" x2="64.9" y2="676.5" stroke="#444" stroke-width="1.3"/>
<line x1="60.7" y1="665.6" x2="64.9" y2="665.6" stroke="#444" stroke-width="1.3"/>
<line x1="60.7" y1="656.2" x2="64.9" y2="656.2" stroke="#444" stroke-width="1.3"/>
<line x1="60.7" y1="647.9" x2="64.9" y2="647.9" stroke="#444" stroke-width="1.3"/>
<line x1="58.900000000000006" y1="802.7" x2="64.9" y2="802.7" stroke="#444" stroke-width="1.3"/>
<line x1="60.7" y1="916.1" x2="64.9" y2="916.1" stroke="#444" stroke-width="1.3"/>
<line x1="60.7" y1="887.5" x2="64.9" y2="887.5" stroke="#444" stroke-width="1.3"/>
<line x1="60.7" y1="867.2" x2="64.9" y2="867.2" stroke="#444" stroke-width="1.3"/>
<line x1="60.7" y1="851.5" x2="64.9" y2="851.5" stroke="#444" stroke-width="1.3"/>
<line x1="60.7" y1="838.7" x2="64.9" y2="838.7" stroke="#444" stroke-width="1.3"/>
<line x1="60.7" y1="827.8" x2="64.9" y2="827.8" stroke="#444" stroke-width="1.3"/>
<line x1="60.7" y1="818.4" x2="64.9" y2="818.4" stroke="#444" stroke-width="1.3"/>
<line x1="60.7" y1="810.1" x2="64.9" y2="810.1" stroke="#444" stroke-width="1.3"/>
<line x1="58.900000000000006" y1="964.6" x2="64.9" y2="964.6" stroke="#444" stroke-width="1.3"/>
<line x1="64.9" y1="964.6" x2="64.9" y2="970.6" stroke="#555" stroke-width="1.3"/>
<line x1="104.7" y1="964.6" x2="104.7" y2="970.6" stroke="#555" stroke-width="1.3"/>
<line x1="144.4" y1="964.6" x2="144.4" y2="970.6" stroke="#555" stroke-width="1.3"/>
<line x1="184.2" y1="964.6" x2="184.2" y2="970.6" stroke="#555" stroke-width="1.3"/>
<line x1="223.9" y1="964.6" x2="223.9" y2="970.6" stroke="#555" stroke-width="1.3"/>
<line x1="263.6" y1="964.6" x2="263.6" y2="970.6" stroke="#555" stroke-width="1.3"/>
<line x1="303.4" y1="964.6" x2="303.4" y2="970.6" stroke="#555" stroke-width="1.3"/>
<line x1="343.1" y1="964.6" x2="343.1" y2="970.6" stroke="#555" stroke-width="1.3"/>
<line x1="382.9" y1="964.6" x2="382.9" y2="970.6" stroke="#555" stroke-width="1.3"/>
<line x1="422.6" y1="964.6" x2="422.6" y2="970.6" stroke="#555" stroke-width="1.3"/>
<line x1="462.4" y1="964.6" x2="462.4" y2="970.6" stroke="#555" stroke-width="1.3"/>
<line x1="502.1" y1="964.6" x2="502.1" y2="970.6" stroke="#555" stroke-width="1.3"/>
<line x1="541.9" y1="964.6" x2="541.9" y2="970.6" stroke="#555" stroke-width="1.3"/>
<line x1="581.6" y1="964.6" x2="581.6" y2="970.6" stroke="#555" stroke-width="1.3"/>
<line x1="621.4" y1="964.6" x2="621.4" y2="970.6" stroke="#555" stroke-width="1.3"/>
<text x="47.8" y="483.1" font-size="16.5" text-anchor="end" fill="#111" textLength="33.8" lengthAdjust="spacingAndGlyphs" >1000</text>
<text x="47.8" y="645.3" font-size="16.5" text-anchor="end" fill="#111" textLength="25.35" lengthAdjust="spacingAndGlyphs" >100</text>
<text x="47.8" y="807.3" font-size="16.5" text-anchor="end" fill="#111" textLength="16.9" lengthAdjust="spacingAndGlyphs" >10</text>
<text x="47.8" y="969.4" font-size="16.5" text-anchor="end" fill="#111" textLength="8.45" lengthAdjust="spacingAndGlyphs" >1</text>
<text x="84.8" y="991.9" font-size="15" text-anchor="middle" fill="#111" textLength="14.96" lengthAdjust="spacingAndGlyphs" >La</text>
<text x="124.5" y="991.9" font-size="15" text-anchor="middle" fill="#111" textLength="17.19" lengthAdjust="spacingAndGlyphs" >Ce</text>
<text x="164.3" y="991.9" font-size="15" text-anchor="middle" fill="#111" textLength="13.44" lengthAdjust="spacingAndGlyphs" >Pr</text>
<text x="204.0" y="991.9" font-size="15" text-anchor="middle" fill="#111" textLength="17.19" lengthAdjust="spacingAndGlyphs" >Nd</text>
<text x="243.8" y="991.9" font-size="15" text-anchor="middle" fill="#111" textLength="20.16" lengthAdjust="spacingAndGlyphs" >Sm</text>
<text x="283.5" y="991.9" font-size="15" text-anchor="middle" fill="#111" textLength="16.44" lengthAdjust="spacingAndGlyphs" >Eu</text>
<text x="323.3" y="991.9" font-size="15" text-anchor="middle" fill="#111" textLength="17.94" lengthAdjust="spacingAndGlyphs" >Gd</text>
<text x="363.0" y="991.9" font-size="15" text-anchor="middle" fill="#111" textLength="15.69" lengthAdjust="spacingAndGlyphs" >Tb</text>
<text x="402.8" y="991.9" font-size="15" text-anchor="middle" fill="#111" textLength="16.44" lengthAdjust="spacingAndGlyphs" >Dy</text>
<text x="442.5" y="991.9" font-size="15" text-anchor="middle" fill="#111" textLength="17.19" lengthAdjust="spacingAndGlyphs" >Ho</text>
<text x="482.3" y="991.9" font-size="15" text-anchor="middle" fill="#111" textLength="13.44" lengthAdjust="spacingAndGlyphs" >Er</text>
<text x="522.0" y="991.9" font-size="15" text-anchor="middle" fill="#111" textLength="19.41" lengthAdjust="spacingAndGlyphs" >Tm</text>
<text x="561.8" y="991.9" font-size="15" text-anchor="middle" fill="#111" textLength="16.44" lengthAdjust="spacingAndGlyphs" >Yb</text>
<text x="601.5" y="991.9" font-size="15" text-anchor="middle" fill="#111" textLength="14.96" lengthAdjust="spacingAndGlyphs" >Lu</text>
<text x="0" y="0" font-size="20.8" fill="#111" transform="translate(15.4,788.5) rotate(-90)" textLength="162.5" lengthAdjust="spacingAndGlyphs">Sample/Chondrite</text>
<polyline points="84.8,564.4 124.5,585.0 164.3,609.7 204.0,640.7 243.8,699.6 283.5,701.3 323.3,731.9 363.0,762.2 402.8,781.0 442.5,787.0 482.3,796.5 522.0,798.7 561.8,795.4 601.5,798.7" fill="none" stroke="#939DC3" stroke-width="3.4" stroke-linejoin="round" stroke-linecap="round" opacity="1"/>
<polygon points="84.8,557.4 91.8,564.4 84.8,571.4 77.8,564.4" fill="#7083B6" stroke="#4F5F90" stroke-width="1.2" opacity="0.8"/>
<polygon points="124.5,578.0 131.5,585.0 124.5,592.0 117.5,585.0" fill="#7083B6" stroke="#4F5F90" stroke-width="1.2" opacity="0.8"/>
<polygon points="164.3,602.7 171.3,609.7 164.3,616.7 157.3,609.7" fill="#7083B6" stroke="#4F5F90" stroke-width="1.2" opacity="0.8"/>
<polygon points="204.0,633.7 211.0,640.7 204.0,647.7 197.0,640.7" fill="#7083B6" stroke="#4F5F90" stroke-width="1.2" opacity="0.8"/>
<polygon points="243.8,692.6 250.8,699.6 243.8,706.6 236.8,699.6" fill="#7083B6" stroke="#4F5F90" stroke-width="1.2" opacity="0.8"/>
<polygon points="283.5,694.3 290.5,701.3 283.5,708.3 276.5,701.3" fill="#7083B6" stroke="#4F5F90" stroke-width="1.2" opacity="0.8"/>
<polygon points="323.3,724.9 330.3,731.9 323.3,738.9 316.3,731.9" fill="#7083B6" stroke="#4F5F90" stroke-width="1.2" opacity="0.8"/>
<polygon points="363.0,755.2 370.0,762.2 363.0,769.2 356.0,762.2" fill="#7083B6" stroke="#4F5F90" stroke-width="1.2" opacity="0.8"/>
<polygon points="402.8,774.0 409.8,781.0 402.8,788.0 395.8,781.0" fill="#7083B6" stroke="#4F5F90" stroke-width="1.2" opacity="0.8"/>
<polygon points="442.5,780.0 449.5,787.0 442.5,794.0 435.5,787.0" fill="#7083B6" stroke="#4F5F90" stroke-width="1.2" opacity="0.8"/>
<polygon points="482.3,789.5 489.3,796.5 482.3,803.5 475.3,796.5" fill="#7083B6" stroke="#4F5F90" stroke-width="1.2" opacity="0.8"/>
<polygon points="522.0,791.7 529.0,798.7 522.0,805.7 515.0,798.7" fill="#7083B6" stroke="#4F5F90" stroke-width="1.2" opacity="0.8"/>
<polygon points="561.8,788.4 568.8,795.4 561.8,802.4 554.8,795.4" fill="#7083B6" stroke="#4F5F90" stroke-width="1.2" opacity="0.8"/>
<polygon points="601.5,791.7 608.5,798.7 601.5,805.7 594.5,798.7" fill="#7083B6" stroke="#4F5F90" stroke-width="1.2" opacity="0.8"/>
<polyline points="84.8,563.0 124.5,575.3 164.3,593.5 204.0,618.6 243.8,678.0 283.5,690.0 323.3,711.7 363.0,740.0 402.8,761.5 442.5,771.4 482.3,778.5 522.0,784.5 561.8,792.3 601.5,796.5" fill="none" stroke="#BBCFEA" stroke-width="3.4" stroke-linejoin="round" stroke-linecap="round" opacity="1"/>
<polygon points="84.8,556.0 91.8,563.0 84.8,570.0 77.8,563.0" fill="#AFC8EC" stroke="#9DB7DE" stroke-width="1.2" opacity="0.8"/>
<polygon points="124.5,568.3 131.5,575.3 124.5,582.3 117.5,575.3" fill="#AFC8EC" stroke="#9DB7DE" stroke-width="1.2" opacity="0.8"/>
<polygon points="164.3,586.5 171.3,593.5 164.3,600.5 157.3,593.5" fill="#AFC8EC" stroke="#9DB7DE" stroke-width="1.2" opacity="0.8"/>
<polygon points="204.0,611.6 211.0,618.6 204.0,625.6 197.0,618.6" fill="#AFC8EC" stroke="#9DB7DE" stroke-width="1.2" opacity="0.8"/>
<polygon points="243.8,671.0 250.8,678.0 243.8,685.0 236.8,678.0" fill="#AFC8EC" stroke="#9DB7DE" stroke-width="1.2" opacity="0.8"/>
<polygon points="283.5,683.0 290.5,690.0 283.5,697.0 276.5,690.0" fill="#AFC8EC" stroke="#9DB7DE" stroke-width="1.2" opacity="0.8"/>
<polygon points="323.3,704.7 330.3,711.7 323.3,718.7 316.3,711.7" fill="#AFC8EC" stroke="#9DB7DE" stroke-width="1.2" opacity="0.8"/>
<polygon points="363.0,733.0 370.0,740.0 363.0,747.0 356.0,740.0" fill="#AFC8EC" stroke="#9DB7DE" stroke-width="1.2" opacity="0.8"/>
<polygon points="402.8,754.5 409.8,761.5 402.8,768.5 395.8,761.5" fill="#AFC8EC" stroke="#9DB7DE" stroke-width="1.2" opacity="0.8"/>
<polygon points="442.5,764.4 449.5,771.4 442.5,778.4 435.5,771.4" fill="#AFC8EC" stroke="#9DB7DE" stroke-width="1.2" opacity="0.8"/>
<polygon points="482.3,771.5 489.3,778.5 482.3,785.5 475.3,778.5" fill="#AFC8EC" stroke="#9DB7DE" stroke-width="1.2" opacity="0.8"/>
<polygon points="522.0,777.5 529.0,784.5 522.0,791.5 515.0,784.5" fill="#AFC8EC" stroke="#9DB7DE" stroke-width="1.2" opacity="0.8"/>
<polygon points="561.8,785.3 568.8,792.3 561.8,799.3 554.8,792.3" fill="#AFC8EC" stroke="#9DB7DE" stroke-width="1.2" opacity="0.8"/>
<polygon points="601.5,789.5 608.5,796.5 601.5,803.5 594.5,796.5" fill="#AFC8EC" stroke="#9DB7DE" stroke-width="1.2" opacity="0.8"/>
<polyline points="84.8,552.4 124.5,557.7 164.3,561.2 204.0,570.0 243.8,597.0 283.5,614.6 323.3,625.9 363.0,644.3 402.8,664.4 442.5,676.0 482.3,691.6 522.0,706.0 561.8,712.4 601.5,720.2" fill="none" stroke="#C4D5A8" stroke-width="3.4" stroke-linejoin="round" stroke-linecap="round" opacity="1"/>
<polygon points="84.8,545.6 91.5,558.1 78.0,558.1" fill="#BCD69E" stroke="#93AF72" stroke-width="1.2" opacity="0.8"/>
<polygon points="124.5,551.0 131.3,563.5 117.8,563.5" fill="#BCD69E" stroke="#93AF72" stroke-width="1.2" opacity="0.8"/>
<polygon points="164.3,554.5 171.0,567.0 157.5,567.0" fill="#BCD69E" stroke="#93AF72" stroke-width="1.2" opacity="0.8"/>
<polygon points="204.0,563.2 210.8,575.8 197.3,575.8" fill="#BCD69E" stroke="#93AF72" stroke-width="1.2" opacity="0.8"/>
<polygon points="243.8,590.2 250.5,602.8 237.0,602.8" fill="#BCD69E" stroke="#93AF72" stroke-width="1.2" opacity="0.8"/>
<polygon points="283.5,607.9 290.3,620.4 276.8,620.4" fill="#BCD69E" stroke="#93AF72" stroke-width="1.2" opacity="0.8"/>
<polygon points="323.3,619.1 330.0,631.6 316.5,631.6" fill="#BCD69E" stroke="#93AF72" stroke-width="1.2" opacity="0.8"/>
<polygon points="363.0,637.5 369.8,650.0 356.3,650.0" fill="#BCD69E" stroke="#93AF72" stroke-width="1.2" opacity="0.8"/>
<polygon points="402.8,657.6 409.5,670.1 396.0,670.1" fill="#BCD69E" stroke="#93AF72" stroke-width="1.2" opacity="0.8"/>
<polygon points="442.5,669.2 449.3,681.8 435.8,681.8" fill="#BCD69E" stroke="#93AF72" stroke-width="1.2" opacity="0.8"/>
<polygon points="482.3,684.9 489.0,697.4 475.5,697.4" fill="#BCD69E" stroke="#93AF72" stroke-width="1.2" opacity="0.8"/>
<polygon points="522.0,699.2 528.8,711.8 515.3,711.8" fill="#BCD69E" stroke="#93AF72" stroke-width="1.2" opacity="0.8"/>
<polygon points="561.8,705.6 568.5,718.1 555.0,718.1" fill="#BCD69E" stroke="#93AF72" stroke-width="1.2" opacity="0.8"/>
<polygon points="601.5,713.5 608.3,726.0 594.8,726.0" fill="#BCD69E" stroke="#93AF72" stroke-width="1.2" opacity="0.8"/>
<polyline points="84.8,526.3 124.5,546.2 164.3,572.2 204.0,606.4 243.8,669.5 283.5,709.7 323.3,698.1 363.0,725.0 402.8,745.3 442.5,749.2 482.3,750.5" fill="none" stroke="#D29E96" stroke-width="3.4" stroke-linejoin="round" stroke-linecap="round" opacity="1"/>
<polyline points="561.8,745.2 601.5,743.0" fill="none" stroke="#D29E96" stroke-width="3.4" stroke-linejoin="round" stroke-linecap="round" opacity="1"/>
<rect x="78.8" y="520.3" width="12" height="12" fill="#CB9189" stroke="#B47268" stroke-width="1.2" opacity="0.8"/>
<rect x="118.5" y="540.2" width="12" height="12" fill="#CB9189" stroke="#B47268" stroke-width="1.2" opacity="0.8"/>
<rect x="158.3" y="566.2" width="12" height="12" fill="#CB9189" stroke="#B47268" stroke-width="1.2" opacity="0.8"/>
<rect x="198.0" y="600.4" width="12" height="12" fill="#CB9189" stroke="#B47268" stroke-width="1.2" opacity="0.8"/>
<rect x="237.8" y="663.5" width="12" height="12" fill="#CB9189" stroke="#B47268" stroke-width="1.2" opacity="0.8"/>
<rect x="277.5" y="703.7" width="12" height="12" fill="#CB9189" stroke="#B47268" stroke-width="1.2" opacity="0.8"/>
<rect x="317.3" y="692.1" width="12" height="12" fill="#CB9189" stroke="#B47268" stroke-width="1.2" opacity="0.8"/>
<rect x="357.0" y="719.0" width="12" height="12" fill="#CB9189" stroke="#B47268" stroke-width="1.2" opacity="0.8"/>
<rect x="396.8" y="739.3" width="12" height="12" fill="#CB9189" stroke="#B47268" stroke-width="1.2" opacity="0.8"/>
<rect x="436.5" y="743.2" width="12" height="12" fill="#CB9189" stroke="#B47268" stroke-width="1.2" opacity="0.8"/>
<rect x="476.3" y="744.5" width="12" height="12" fill="#CB9189" stroke="#B47268" stroke-width="1.2" opacity="0.8"/>
<rect x="555.8" y="739.2" width="12" height="12" fill="#CB9189" stroke="#B47268" stroke-width="1.2" opacity="0.8"/>
<rect x="595.5" y="737.0" width="12" height="12" fill="#CB9189" stroke="#B47268" stroke-width="1.2" opacity="0.8"/>
<polyline points="84.8,545.6 124.5,573.0 164.3,579.8 204.0,597.8 243.8,641.0 283.5,661.0 323.3,675.6 363.0,711.0 402.8,745.0 442.5,760.0 482.3,776.0 522.0,783.0 561.8,780.0 601.5,795.0" fill="none" stroke="#4A4A4A" stroke-width="2.7" stroke-linejoin="round" stroke-linecap="butt" stroke-dasharray="5.5,4.3" opacity="0.85"/>
<polyline points="84.8,565.7 124.5,598.6 164.3,602.9 204.0,618.3 243.8,654.0 283.5,683.0 323.3,703.6 363.0,736.3 402.8,763.3 442.5,783.0 482.3,787.0 522.0,797.0 561.8,782.0 601.5,802.0" fill="none" stroke="#4A4A4A" stroke-width="2.7" stroke-linejoin="round" stroke-linecap="butt" stroke-dasharray="5.5,4.3" opacity="0.85"/>
<polyline points="84.8,593.4 124.5,635.0 164.3,637.6 204.0,647.3 243.8,706.0 283.5,738.0 323.3,744.0 363.0,775.0 402.8,794.0 442.5,810.0 482.3,820.0 522.0,812.0 561.8,805.0 601.5,812.0" fill="none" stroke="#4A4A4A" stroke-width="2.7" stroke-linejoin="round" stroke-linecap="butt" stroke-dasharray="5.5,4.3" opacity="0.85"/>
<polyline points="84.8,597.8 124.5,654.3 164.3,631.2 204.0,702.5 243.8,726.3 283.5,724.2 323.3,745.6 363.0,786.4 402.8,805.7 442.5,828.0 482.3,830.0 522.0,828.0 561.8,830.0 601.5,842.0" fill="none" stroke="#4A4A4A" stroke-width="2.7" stroke-linejoin="round" stroke-linecap="butt" stroke-dasharray="5.5,4.3" opacity="0.85"/>
<polyline points="84.8,565.6 124.5,585.9" fill="none" stroke="#0F5430" stroke-width="3.6" stroke-linejoin="round" stroke-linecap="round" opacity="1"/>
<polyline points="204.0,623.6 243.8,662.9 283.5,685.9" fill="none" stroke="#0F5430" stroke-width="3.6" stroke-linejoin="round" stroke-linecap="round" opacity="1"/>
<line x1="358.0" y1="730.2" x2="368.0" y2="730.2" stroke="#0F5430" stroke-width="4.8" opacity="1"/>
<polyline points="561.8,790.3 601.5,802.0" fill="none" stroke="#0F5430" stroke-width="3.6" stroke-linejoin="round" stroke-linecap="round" opacity="1"/>
<polyline points="84.8,542.1 124.5,566.5" fill="none" stroke="#FBEF96" stroke-width="3.6" stroke-linejoin="round" stroke-linecap="round" opacity="1"/>
<polyline points="204.0,614.2 243.8,659.5 283.5,694.4" fill="none" stroke="#FBEF96" stroke-width="3.6" stroke-linejoin="round" stroke-linecap="round" opacity="1"/>
<line x1="358.0" y1="739.8" x2="368.0" y2="739.8" stroke="#FBEF96" stroke-width="4.8" opacity="1"/>
<polyline points="561.8,819.0 601.5,843.9" fill="none" stroke="#FBEF96" stroke-width="3.6" stroke-linejoin="round" stroke-linecap="round" opacity="1"/>
<polyline points="84.8,517.1 124.5,543.2" fill="none" stroke="#D13466" stroke-width="4" stroke-linejoin="round" stroke-linecap="round" opacity="1"/>
<polyline points="204.0,589.5 243.8,634.7 283.5,667.1" fill="none" stroke="#D13466" stroke-width="4" stroke-linejoin="round" stroke-linecap="round" opacity="1"/>
<line x1="358.0" y1="720.9" x2="368.0" y2="720.9" stroke="#D13466" stroke-width="4.8" opacity="1"/>
<polyline points="561.8,803.9 601.5,819.0" fill="none" stroke="#D13466" stroke-width="4" stroke-linejoin="round" stroke-linecap="round" opacity="1"/>
<polyline points="84.8,535.1 124.5,524.1" fill="none" stroke="#9B7A1A" stroke-width="4" stroke-linejoin="round" stroke-linecap="round" opacity="1"/>
<polyline points="204.0,598.9 243.8,637.3 283.5,670.5" fill="none" stroke="#9B7A1A" stroke-width="4" stroke-linejoin="round" stroke-linecap="round" opacity="1"/>
<line x1="358.0" y1="686.2" x2="368.0" y2="686.2" stroke="#9B7A1A" stroke-width="4.8" opacity="1"/>
<polyline points="561.8,728.3 601.5,741.9" fill="none" stroke="#9B7A1A" stroke-width="4" stroke-linejoin="round" stroke-linecap="round" opacity="1"/>
<polyline points="84.8,507.7 124.5,522.7" fill="none" stroke="#7A62A8" stroke-width="4" stroke-linejoin="round" stroke-linecap="round" opacity="1"/>
<polyline points="204.0,560.5 243.8,601.4 283.5,629.6" fill="none" stroke="#7A62A8" stroke-width="4" stroke-linejoin="round" stroke-linecap="round" opacity="1"/>
<line x1="358.0" y1="679.5" x2="368.0" y2="679.5" stroke="#7A62A8" stroke-width="4.8" opacity="1"/>
<polyline points="561.8,757.6 601.5,777.2" fill="none" stroke="#7A62A8" stroke-width="4" stroke-linejoin="round" stroke-linecap="round" opacity="1"/>
<polyline points="84.8,501.5 124.5,524.5" fill="none" stroke="#1AAED6" stroke-width="4" stroke-linejoin="round" stroke-linecap="round" opacity="1"/>
<polyline points="204.0,565.3 243.8,614.0 283.5,662.5" fill="none" stroke="#1AAED6" stroke-width="4" stroke-linejoin="round" stroke-linecap="round" opacity="1"/>
<line x1="358.0" y1="682.8" x2="368.0" y2="682.8" stroke="#1AAED6" stroke-width="4.8" opacity="1"/>
<polyline points="561.8,734.0 601.5,747.1" fill="none" stroke="#1AAED6" stroke-width="4" stroke-linejoin="round" stroke-linecap="round" opacity="1"/>
<polyline points="84.8,495.0 124.5,511.8" fill="none" stroke="#F9B52B" stroke-width="4" stroke-linejoin="round" stroke-linecap="round" opacity="1"/>
<polyline points="204.0,548.2 243.8,590.3 283.5,621.9" fill="none" stroke="#F9B52B" stroke-width="4" stroke-linejoin="round" stroke-linecap="round" opacity="1"/>
<line x1="358.0" y1="662.7" x2="368.0" y2="662.7" stroke="#F9B52B" stroke-width="4.8" opacity="1"/>
<polyline points="561.8,724.1 601.5,735.3" fill="none" stroke="#F9B52B" stroke-width="4" stroke-linejoin="round" stroke-linecap="round" opacity="1"/>
<rect x="74.9" y="802.4" width="287.3" height="157" fill="#fff" stroke="#8a8a8a" stroke-width="1"/>
<line x1="96" y1="825.3" x2="135" y2="825.3" stroke="#8390B6" stroke-width="3" stroke-linecap="round"/>
<polygon points="115.5,820.3 120.5,825.3 115.5,830.3 110.5,825.3" fill="#6A7BAA" stroke="#4F5F90" stroke-width="1.2" opacity="0.85"/>
<text x="139.3" y="830.2" font-size="14.6" text-anchor="start" fill="#111" textLength="84" lengthAdjust="spacingAndGlyphs" >TP_42/957-1</text>
<line x1="96" y1="852.8" x2="135" y2="852.8" stroke="#BBCFEA" stroke-width="3" stroke-linecap="round"/>
<polygon points="115.5,847.8 120.5,852.8 115.5,857.8 110.5,852.8" fill="#AFC8EC" stroke="#9DB7DE" stroke-width="1.2" opacity="0.85"/>
<text x="139.3" y="857.7" font-size="14.6" text-anchor="start" fill="#111" textLength="84" lengthAdjust="spacingAndGlyphs" >TP_42/957-2</text>
<line x1="96" y1="880.8" x2="135" y2="880.8" stroke="#C4D5A8" stroke-width="3" stroke-linecap="round"/>
<polygon points="115.5,875.3 121.0,885.3 110.0,885.3" fill="#BCD69E" stroke="#93AF72" stroke-width="1.2" opacity="0.85"/>
<text x="139.3" y="885.7" font-size="14.6" text-anchor="start" fill="#111" textLength="71.2" lengthAdjust="spacingAndGlyphs" >TP_43/410</text>
<line x1="96" y1="907.7" x2="135" y2="907.7" stroke="#D29E96" stroke-width="3" stroke-linecap="round"/>
<rect x="110.5" y="902.7" width="10" height="10" fill="#CB9189" stroke="#B47268" stroke-width="1.2" opacity="0.85"/>
<text x="139.3" y="912.6" font-size="14.6" text-anchor="start" fill="#111" textLength="71.2" lengthAdjust="spacingAndGlyphs" >TP_55/946</text>
<line x1="96" y1="946.7" x2="135" y2="946.7" stroke="#4D4D4D" stroke-width="2.2" stroke-dasharray="5,3" opacity="0.85"/>
<text x="139.3" y="952.1" font-size="16.2" text-anchor="start" fill="#111" textLength="124.9" lengthAdjust="spacingAndGlyphs" >Vernikovsky et al.</text>
<text x="267.1" y="946.0" font-size="10.5" text-anchor="start" fill="#111" textLength="12.2" lengthAdjust="spacingAndGlyphs" >33</text>
<rect x="243.7" y="802.4" width="118.5" height="132.9" fill="#fff" stroke="#111" stroke-width="1.3"/>
<text x="253.7" y="819.9" font-size="15.3" text-anchor="start" fill="#111" textLength="99.6" lengthAdjust="spacingAndGlyphs" >Delkansky fm.</text>
<line x1="255.2" y1="833.7" x2="281.7" y2="833.7" stroke="#F9B52B" stroke-width="4.8" stroke-linecap="round"/>
<text x="300.4" y="838.5" font-size="14.3" text-anchor="start" fill="#111" textLength="46.5" lengthAdjust="spacingAndGlyphs" >2FG-58</text>
<line x1="255.2" y1="847.4" x2="281.7" y2="847.4" stroke="#1AAED6" stroke-width="4.8" stroke-linecap="round"/>
<text x="300.4" y="852.2" font-size="14.3" text-anchor="start" fill="#111" textLength="54" lengthAdjust="spacingAndGlyphs" >1FG-251</text>
<line x1="255.2" y1="862.3" x2="281.7" y2="862.3" stroke="#7A62A8" stroke-width="4.8" stroke-linecap="round"/>
<text x="300.4" y="867.1" font-size="14.3" text-anchor="start" fill="#111" textLength="46.5" lengthAdjust="spacingAndGlyphs" >2FG-89</text>
<line x1="255.2" y1="879.3" x2="281.7" y2="879.3" stroke="#9B7A1A" stroke-width="4.8" stroke-linecap="round"/>
<text x="300.4" y="884.1" font-size="14.3" text-anchor="start" fill="#111" textLength="46.5" lengthAdjust="spacingAndGlyphs" >2FG-60</text>
<line x1="255.2" y1="895" x2="278.7" y2="895" stroke="#D13466" stroke-width="4.8" stroke-linecap="round"/>
<text x="300.4" y="899.8" font-size="14.3" text-anchor="start" fill="#111" textLength="54" lengthAdjust="spacingAndGlyphs" >1FG-200</text>
<line x1="255.2" y1="911.7" x2="278.7" y2="911.7" stroke="#FBEF96" stroke-width="4.8" stroke-linecap="round"/>
<text x="300.4" y="916.5" font-size="14.3" text-anchor="start" fill="#111" textLength="54" lengthAdjust="spacingAndGlyphs" >1FG-229</text>
<line x1="255.2" y1="927.2" x2="278.7" y2="927.2" stroke="#0F5430" stroke-width="4.8" stroke-linecap="round"/>
<text x="300.4" y="932.0" font-size="14.3" text-anchor="start" fill="#111" textLength="46.5" lengthAdjust="spacingAndGlyphs" >2FG-64</text>
<rect x="63.8" y="439.8" width="31.8" height="37.6" fill="#fff" stroke="#1a1a1a" stroke-width="1.3"/>
<text x="82.2" y="471.5" font-size="36" text-anchor="middle" fill="#111" textLength="19.5" lengthAdjust="spacingAndGlyphs" >b</text>
<text x="250.5" y="517.7" font-size="26" text-anchor="start" fill="#000" textLength="331" lengthAdjust="spacingAndGlyphs" >Chondrite-normalized REE plot</text>
<text x="585.0" y="503.6" font-size="13" text-anchor="start" fill="#111" textLength="16.7" lengthAdjust="spacingAndGlyphs" >42</text>
</svg></body></html>
